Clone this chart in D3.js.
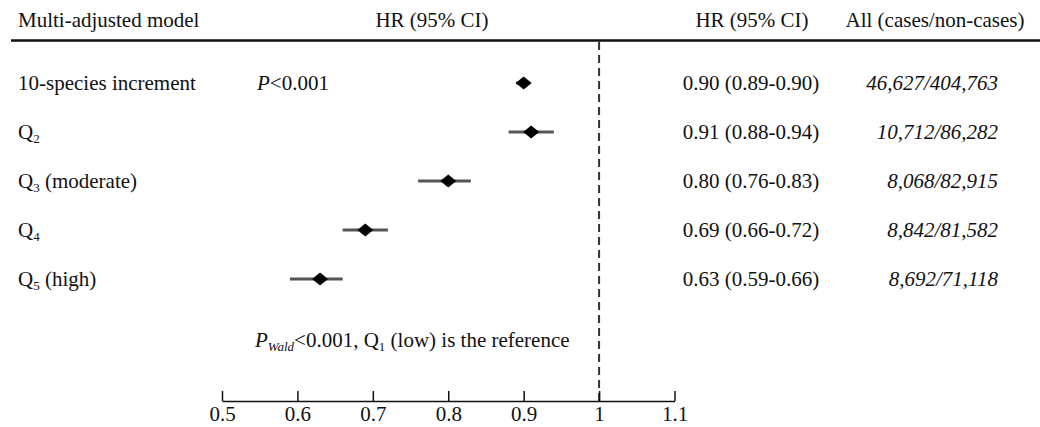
<html>
<head>
<title>Forest Plot</title>
<script type="text/javascript" src="https://cdn.jsdelivr.net/npm/d3@7/dist/d3.min.js"></script>
<style type="text/css">
body { margin: 0; background: white; }
text { font-family: "Liberation Serif", "Times New Roman", serif; font-size: 21px; fill: #111; }
.ci { stroke: #555; stroke-width: 3px; }
</style>
</head>
<body>
<script>
  // row labels: [base, subscript, rest]
  var rowLabels = [["10-species increment", "", ""], ["Q", "2", ""], ["Q", "3", " (moderate)"], ["Q", "4", ""], ["Q", "5", " (high)"]];
  var hr = [0.90, 0.91, 0.80, 0.69, 0.63];
  var lower = [0.89, 0.88, 0.76, 0.66, 0.59];
  var upper = [0.90, 0.94, 0.83, 0.72, 0.66];
  var hrText = ["0.90 (0.89-0.90)", "0.91 (0.88-0.94)", "0.80 (0.76-0.83)", "0.69 (0.66-0.72)", "0.63 (0.59-0.66)"];
  var casesText = ["46,627/404,763", "10,712/86,282", "8,068/82,915", "8,842/81,582", "8,692/71,118"];
  var tickValues = [0.5, 0.6, 0.7, 0.8, 0.9, 1, 1.1];

  var width = 1040, height = 427;

  var svg = d3.select("body").append("svg").attr("width", width).attr("height", height).style("background", "white");

  var x = d3.scaleLinear().domain([0.5, 1.1]).range([222, 674.5]);
  var y = d3.scaleLinear().domain([0, 4]).range([83, 279]);

  // header
  svg.append("text").attr("x", 18).attr("y", 27).text("Multi-adjusted model");
  svg.append("text").attr("x", 432).attr("y", 27).attr("text-anchor", "middle").text("HR (95% CI)");
  svg.append("text").attr("x", 752).attr("y", 27).attr("text-anchor", "middle").text("HR (95% CI)");
  svg.append("text").attr("x", 935).attr("y", 27).attr("text-anchor", "middle").text("All (cases/non-cases)");

  svg.append("line").attr("x1", 11).attr("x2", 1040).attr("y1", 40.5).attr("y2", 40.5)
    .attr("stroke", "#111").attr("stroke-width", 2.5);

  // reference line at HR = 1
  svg.append("line").attr("x1", x(1)).attr("x2", x(1)).attr("y1", 42).attr("y2", 401)
    .attr("stroke", "#333").attr("stroke-width", 2).attr("stroke-dasharray", "8,5");

  // row labels
  var idx = d3.range(hr.length);
  var lab = svg.selectAll(".lab").data(idx).enter().append("text")
    .attr("class", "lab").attr("x", 18).attr("y", function(i){ return y(i); }).attr("dy", "0.35em");
  lab.append("tspan").text(function(i){ return rowLabels[i][0]; });
  lab.append("tspan").style("font-size", "13px").attr("dy", "4").text(function(i){ return rowLabels[i][1]; });
  lab.append("tspan").attr("dy", "-4").text(function(i){ return rowLabels[i][2]; });

  var p = svg.append("text").attr("x", 257).attr("y", y(0)).attr("dy", "0.35em");
  p.append("tspan").style("font-style", "italic").text("P");
  p.append("tspan").text("<0.001");

  // CI lines
  svg.selectAll(".ci").data(idx).enter().append("line").attr("class", "ci")
    .attr("x1", function(i){ return x(lower[i]); })
    .attr("x2", function(i){ return x(upper[i]); })
    .attr("y1", function(i){ return y(i); })
    .attr("y2", function(i){ return y(i); });

  // diamonds
  svg.selectAll(".pt").data(idx).enter().append("path").attr("class", "pt")
    .attr("d", function(i){
      var cx = x(hr[i]), cy = y(i);
      return "M" + (cx - 8) + "," + cy + "L" + cx + "," + (cy - 6.5) + "L" + (cx + 8) + "," + cy + "L" + cx + "," + (cy + 6.5) + "Z";
    })
    .attr("fill", "#000");

  // right columns
  svg.selectAll(".hrt").data(idx).enter().append("text").attr("class", "hrt")
    .attr("x", 751).attr("y", function(i){ return y(i); }).attr("dy", "0.35em")
    .attr("text-anchor", "middle").text(function(i){ return hrText[i]; });

  svg.selectAll(".cs").data(idx).enter().append("text").attr("class", "cs")
    .attr("x", 998).attr("y", function(i){ return y(i); }).attr("dy", "0.35em")
    .attr("text-anchor", "end").style("font-style", "italic").text(function(i){ return casesText[i]; });

  // bottom note
  var note = svg.append("text").attr("x", 255).attr("y", 347);
  note.append("tspan").style("font-style", "italic").text("P");
  note.append("tspan").style("font-style", "italic").style("font-size", "13px").attr("dy", "4").text("Wald");
  note.append("tspan").attr("dy", "-4").text("<0.001, Q");
  note.append("tspan").style("font-size", "13px").attr("dy", "4").text("1");
  note.append("tspan").attr("dy", "-4").text(" (low) is the reference");

  // axis
  var axis = d3.axisBottom(x).tickValues(tickValues).tickSizeInner(-10).tickSizeOuter(0).tickPadding(5)
    .tickFormat(d3.format("~g"));
  var g = svg.append("g").attr("transform", "translate(0,401)").call(axis);
  g.selectAll("path, line").attr("stroke", "#111").attr("stroke-width", 1.5);
  g.selectAll("text").style("font-family", "'Liberation Serif', 'Times New Roman', serif").style("font-size", "21px").attr("fill", "#111");
</script>
</body>
</html>
